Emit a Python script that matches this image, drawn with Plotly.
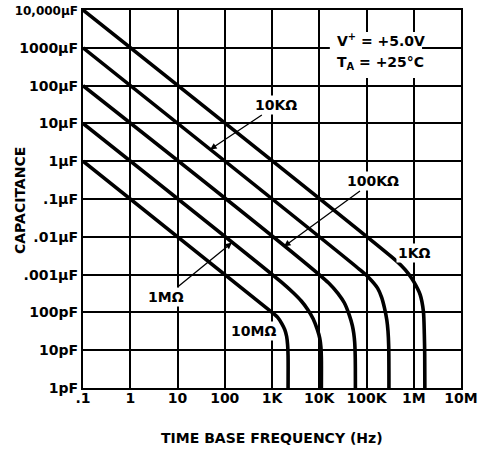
import math
import plotly.graph_objects as go

# Timing resistor values, one curve each
resistors = ["1KΩ", "10KΩ", "100KΩ", "1MΩ", "10MΩ"]

# Time base frequency (Hz) and capacitance (F)
freq_1k = [0.1, 354800, 562300, 776200, 1000000, 1365000, 1600000, 1675000, 1706000, 1718000]
cap_1k = [1e-2, 2.8e-9, 1.66e-9, 1.05e-9, 6.5e-10, 2.95e-10, 1.07e-10, 2.6e-11, 7.9e-12, 1e-12]

freq_10k = [0.1, 70790, 112200, 171400, 208900, 239900, 269200, 285100, 295100, 298500]
cap_10k = [1e-3, 1.38e-9, 8.3e-10, 4.4e-10, 2.5e-10, 1.32e-10, 6.3e-11, 3.2e-11, 1.26e-11, 1e-12]

freq_100k = [0.1, 15850, 25700, 33880, 43250, 50120, 53700, 56230, 57810, 58210]
cap_100k = [1e-4, 6.0e-10, 3.0e-10, 1.8e-10, 8.5e-11, 4.5e-11, 2.8e-11, 1.6e-11, 6.3e-12, 1e-12]

freq_1m = [0.1, 1585, 2818, 4169, 5689, 7413, 9120, 10230, 10840, 11090, 11090]
cap_1m = [1e-5, 6.3e-10, 3.3e-10, 2.0e-10, 1.2e-10, 6.8e-11, 3.5e-11, 2.1e-11, 1.2e-11, 6.3e-12, 1e-12]

freq_10m = [0.1, 1000, 1318, 1622, 1862, 2042, 2138, 2188, 2188]
cap_10m = [1e-6, 1e-10, 7.4e-11, 5.0e-11, 3.5e-11, 2.3e-11, 1.4e-11, 7.1e-12, 1e-12]

# Axis ticks
freq_ticks = [0.1, 1, 10, 100, 1e3, 1e4, 1e5, 1e6, 1e7]
freq_labels = [".1", "1", "10", "100", "1K", "10K", "100K", "1M", "10M"]
cap_ticks = [1e-2, 1e-3, 1e-4, 1e-5, 1e-6, 1e-7, 1e-8, 1e-9, 1e-10, 1e-11, 1e-12]
cap_labels = ["<span style='font-size:12px'>10,000µF</span>", "1000µF", "100µF", "10µF",
              "1µF", ".1µF", ".01µF", ".001µF", "100pF", "10pF", "1pF"]

curves = [
    (freq_1k, cap_1k),
    (freq_10k, cap_10k),
    (freq_100k, cap_100k),
    (freq_1m, cap_1m),
    (freq_10m, cap_10m),
]

fig = go.Figure()
for name, (f, c) in zip(resistors, curves):
    fig.add_trace(go.Scatter(
        x=f, y=c, mode="lines", name=name,
        line=dict(color="black", width=3.6, shape="spline", smoothing=0.8),
        hoverinfo="skip",
    ))

axis_common = dict(
    type="log", automargin=False,
    showgrid=True, gridcolor="black", gridwidth=1.8,
    showline=True, linecolor="black", linewidth=2.4, mirror=True,
    ticks="", zeroline=False, tickmode="array",
    tickfont=dict(size=14, color="black"),
)

fig.update_xaxes(range=[-1, 7], tickvals=freq_ticks, ticktext=freq_labels,
                 ticklabelstandoff=-4, **axis_common)
fig.update_yaxes(range=[-12, -2], tickvals=cap_ticks, ticktext=cap_labels,
                 ticklabelstandoff=0, **axis_common)


def on_curve(resistance, freq):
    """Log-space point on the straight part of a curve: C = 1/(R f)."""
    return math.log10(freq), math.log10(1.0 / (resistance * freq))


txt = dict(size=14, color="black")
centered = dict(xanchor="center", yanchor="middle")
annotations = []

# Axis titles
annotations.append(dict(text="CAPACITANCE", xref="paper", yref="paper", x=-0.167, y=0.497,
                        textangle=-90, showarrow=False, font=txt, **centered))
annotations.append(dict(text="TIME BASE FREQUENCY (Hz)", xref="paper", yref="paper",
                        x=0.5, y=-0.132, showarrow=False, font=txt, **centered))

# Operating conditions
annotations.append(dict(text="V<sup>+</sup> = +5.0V", xref="paper", yref="paper",
                        x=0.667, y=0.921, xanchor="left", yanchor="middle",
                        showarrow=False, font=txt))
annotations.append(dict(text="T<sub>A</sub> = +25°C", xref="paper", yref="paper",
                        x=0.667, y=0.860, xanchor="left", yanchor="middle",
                        showarrow=False, font=txt))

# Curve labels with leader arrows
arrow = dict(showarrow=True, arrowhead=2, arrowsize=1, arrowwidth=1.3, arrowcolor="black",
             font=txt, bgcolor="white", borderpad=1, xref="x", yref="y")
tx, ty = on_curve(1e4, 49)
annotations.append(dict(text="10KΩ", x=tx, y=ty, ax=66, ay=-44, **arrow))
tx, ty = on_curve(1e5, 1795)
annotations.append(dict(text="100KΩ", x=tx, y=ty, ax=89, ay=-65, **arrow))
tx, ty = on_curve(1e6, 142)
annotations.append(dict(text="1MΩ", x=tx, y=ty, ax=-66, ay=54, **arrow))

# Curve labels without arrows
annotations.append(dict(text="1KΩ", xref="paper", yref="paper", x=0.876, y=0.357,
                        showarrow=False, font=txt, bgcolor="white", borderpad=1, **centered))
annotations.append(dict(text="10MΩ", xref="paper", yref="paper", x=0.451, y=0.151,
                        showarrow=False, font=txt, bgcolor="white", borderpad=1, **centered))

fig.update_layout(
    width=478, height=449,
    margin=dict(l=83, r=17, t=10, b=61, autoexpand=False),
    paper_bgcolor="white", plot_bgcolor="white",
    font=dict(family="DejaVu Sans", weight="bold", color="black", size=14),
    showlegend=False,
    annotations=annotations,
    shapes=[dict(type="rect", xref="paper", yref="paper", x0=0.653, x1=0.897,
                 y0=0.820, y1=0.942, fillcolor="white", line=dict(width=0),
                 layer="above")],
)

fig.write_html("out.html")
